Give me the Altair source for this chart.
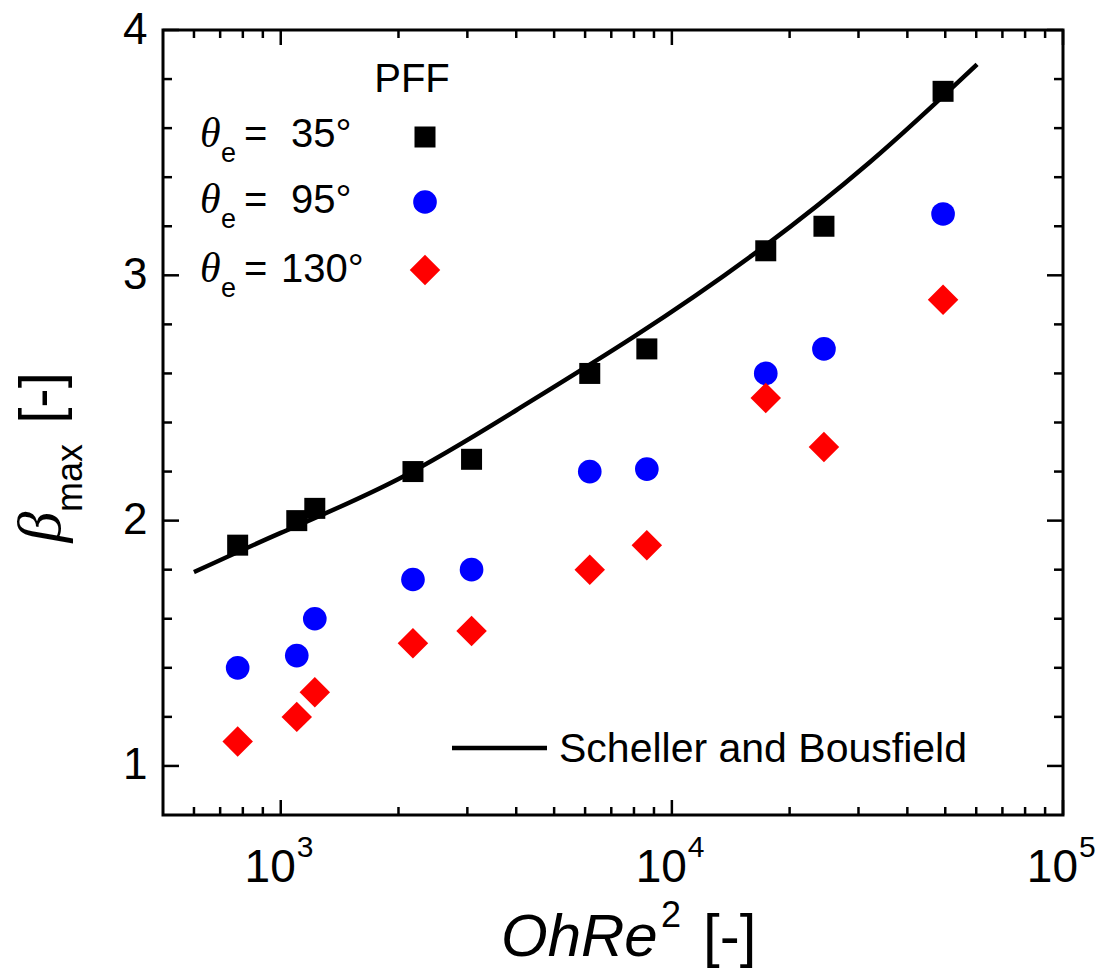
import altair as alt
import pandas as pd

# ---- data ----
ohre = [776, 1099, 1222, 2178, 3075, 6167, 8630, 17380, 24480, 49360]
beta_35 = [1.90, 2.00, 2.05, 2.20, 2.25, 2.60, 2.70, 3.10, 3.20, 3.75]
beta_95 = [1.40, 1.45, 1.60, 1.76, 1.80, 2.20, 2.21, 2.60, 2.70, 3.25]
beta_130 = [1.10, 1.20, 1.30, 1.50, 1.55, 1.80, 1.90, 2.50, 2.30, 2.90]

sb_x = [600, 1000, 2000, 4000, 8000, 16000, 32000, 60300]
sb_y = [1.79, 1.95, 2.17, 2.45, 2.75, 3.08, 3.46, 3.86]

x_major = [1000, 10000, 100000]
x_exp = ["3", "4", "5"]
x_minor = [600, 700, 800, 900, 2000, 3000, 4000, 5000, 6000, 7000, 8000, 9000,
           20000, 30000, 40000, 50000, 60000, 70000, 80000, 90000]
y_major = [1, 2, 3, 4]
y_minor = [1.2, 1.4, 1.6, 1.8, 2.2, 2.4, 2.6, 2.8, 3.2, 3.4, 3.6, 3.8]

W, H = 900, 785
SANS = "Liberation Sans"
SERIF = "Liberation Serif"

xs = alt.Scale(type="log", domain=[500, 100000], nice=False)
ys = alt.Scale(domain=[0.8, 4], nice=False, zero=False)
yaxis = alt.Axis(values=y_major, ticks=False, domain=False, grid=False,
                 labelFontSize=44, labelFont=SANS, labelColor="black",
                 labelPadding=16, labelFlush=False, labelOverlap=False,
                 title=None, format="d")

one = pd.DataFrame({"k": [0]})


def X(field="x"):
    return alt.X(f"{field}:Q", scale=xs, axis=None)


def Y(field="y"):
    return alt.Y(f"{field}:Q", scale=ys, axis=yaxis)


def pts(vals, shape, size, color):
    df = pd.DataFrame({"x": ohre, "y": vals})
    return alt.Chart(df).mark_point(shape=shape, size=size, filled=True,
                                    color=color, opacity=1, strokeWidth=0).encode(x=X(), y=Y())


def txt(s, x, y, size, font=SANS, style="normal", align="left",
        baseline="alphabetic", angle=0):
    return alt.Chart(one).mark_text(text=s, fontSize=size, font=font, fontStyle=style,
                                    align=align, baseline=baseline, angle=angle,
                                    color="black").encode(x=alt.value(x), y=alt.value(y))


layers = []

# curve
line_df = pd.DataFrame({"x": sb_x, "y": sb_y})
layers.append(alt.Chart(line_df).mark_line(color="black", strokeWidth=4.5,
                                            interpolate="natural").encode(x=X(), y=Y()))

# data points
layers.append(pts(beta_35, "square", 441, "#000000"))
layers.append(pts(beta_95, "circle", 560, "#0000FF"))
layers.append(pts(beta_130, "diamond", 930, "#FF0000"))

# inward ticks
xmaj = pd.DataFrame({"x": x_major})
xmin = pd.DataFrame({"x": x_minor})
ymaj = pd.DataFrame({"y": y_major})
ymin = pd.DataFrame({"y": y_minor})
for df, L in ((xmaj, 15), (xmin, 8)):
    layers.append(alt.Chart(df).mark_rule(color="black", strokeWidth=2.5).encode(
        x=X(), y=alt.value(H), y2=alt.value(H - L)))
    layers.append(alt.Chart(df).mark_rule(color="black", strokeWidth=2.5).encode(
        x=X(), y=alt.value(0), y2=alt.value(L)))
for df, L in ((ymaj, 16), (ymin, 9)):
    layers.append(alt.Chart(df).mark_rule(color="black", strokeWidth=2.5).encode(
        y=Y(), x=alt.value(0), x2=alt.value(L)))
    layers.append(alt.Chart(df).mark_rule(color="black", strokeWidth=2.5).encode(
        y=Y(), x=alt.value(W), x2=alt.value(W - L)))

# x tick labels 10^n
xl = pd.DataFrame({"x": x_major, "e": x_exp})
layers.append(alt.Chart(xl).mark_text(text="10", align="right", baseline="alphabetic",
                                      dx=15, fontSize=46, font=SANS, color="black").encode(
    x=X(), y=alt.value(852)))
layers.append(alt.Chart(xl).mark_text(align="left", baseline="alphabetic",
                                      dx=16, fontSize=30, font=SANS, color="black").encode(
    x=X(), y=alt.value(827), text="e:N"))

# x title: OhRe^2 [-]
layers.append(txt("OhRe", 338, 926, 60, style="italic"))
layers.append(txt("2", 498, 897, 36))
layers.append(txt("[-]", 540, 926, 60))

# y title: beta_max [-]
layers.append(txt("β", -103, 497, 62, font=SERIF, style="italic", align="center", angle=270))
layers.append(txt("max", -81, 448, 36, align="center", angle=270))
layers.append(txt("[-]", -103, 368, 58, align="center", angle=270))

# legend
layers.append(txt("PFF", 249, 62, 40, align="center"))
rows = [(117, "35°", 128), (183, "95°", 128), (252, "130°", 118)]
for base, num, nx in rows:
    layers.append(txt("θ", 37, base, 42, font=SERIF, style="italic"))
    layers.append(txt("e", 58, base + 15, 27))
    layers.append(txt("=", 81, base, 40))
    layers.append(txt(num, nx, base, 40))
layers.append(alt.Chart(one).mark_point(shape="square", size=441, filled=True, color="#000000",
                                        opacity=1, strokeWidth=0).encode(
    x=alt.value(262), y=alt.value(107)))
layers.append(alt.Chart(one).mark_point(shape="circle", size=560, filled=True, color="#0000FF",
                                        opacity=1, strokeWidth=0).encode(
    x=alt.value(262), y=alt.value(172)))
layers.append(alt.Chart(one).mark_point(shape="diamond", size=930, filled=True, color="#FF0000",
                                        opacity=1, strokeWidth=0).encode(
    x=alt.value(262), y=alt.value(240)))

layers.append(alt.Chart(one).mark_rule(color="black", strokeWidth=4.5).encode(
    x=alt.value(289), x2=alt.value(384), y=alt.value(718)))
layers.append(txt("Scheller and Bousfield", 396, 732, 41))

chart = alt.layer(*layers).properties(
    width=W, height=H,
    autosize=alt.AutoSizeParams(type="none"),
    padding={"left": 163, "top": 30, "right": 46, "bottom": 156},
    background="white",
).configure_view(stroke="black", strokeWidth=3)

chart.save("out.html", embed_options={"renderer": "svg", "actions": False})
